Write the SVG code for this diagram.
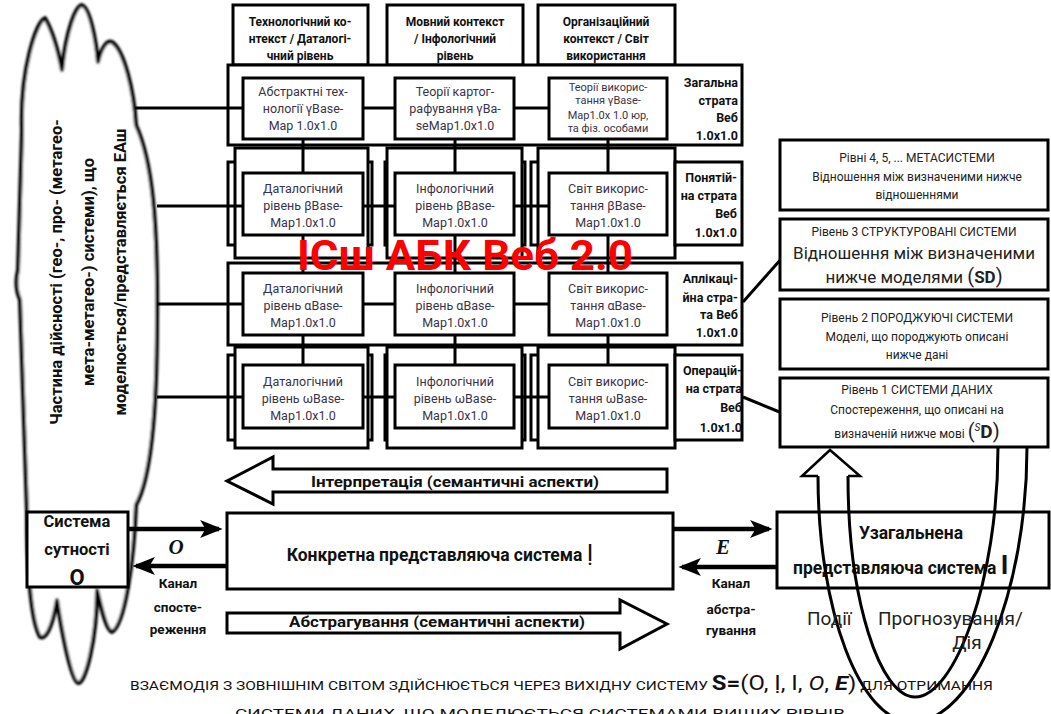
<svg xmlns="http://www.w3.org/2000/svg" width="1051" height="714" viewBox="0 0 1051 714">
  <style>
    .box { fill: #fff; stroke: #000; stroke-width: 3; }
    .ln { fill: none; stroke: #000; stroke-width: 3; }
    .thk { fill: none; stroke: #000; stroke-width: 4.5; }
    .hdr { font-family: Roboto, "Liberation Sans", sans-serif; font-weight: bold; font-size: 12px; fill: #111; text-anchor: middle; }
    .inn { font-family: Roboto, "Liberation Sans", sans-serif; font-size: 12.5px; fill: #3a3347; text-anchor: middle; }
    .inn4 { font-family: Roboto, "Liberation Sans", sans-serif; font-size: 11px; fill: #3a3347; text-anchor: middle; }
    .str { font-family: Roboto, "Liberation Sans", sans-serif; font-weight: bold; font-size: 12.5px; fill: #111; text-anchor: end; }
    .lvs { font-family: Roboto, "Liberation Sans", sans-serif; font-size: 12px; fill: #222; text-anchor: middle; }
    .lvb { font-family: Roboto, "Liberation Sans", sans-serif; font-size: 17px; fill: #222; text-anchor: middle; }
    .bld { font-family: Roboto, "Liberation Sans", sans-serif; font-weight: bold; fill: #111; text-anchor: middle; }
    .bldl { font-family: Roboto, "Liberation Sans", sans-serif; font-weight: bold; fill: #111; text-anchor: start; }
    .reg { font-family: Roboto, "Liberation Sans", sans-serif; fill: #222; }
    .ital { font-family: "Liberation Serif", serif; font-style: italic; font-weight: bold; fill: #111; text-anchor: middle; }
  </style>
  <defs>
    <marker id="ah" markerWidth="5" markerHeight="4" refX="4.2" refY="2" orient="auto" markerUnits="strokeWidth">
      <path d="M0,0 L5,2 L0,4 L1.2,2 Z" fill="#000"/>
    </marker>
    <filter id="soft" x="-10%" y="-10%" width="120%" height="120%">
      <feGaussianBlur stdDeviation="0.8"/>
    </filter>
  </defs>

  <rect width="1051" height="714" fill="#fff"/>

  <!-- cloud: the modelled part of reality -->
  <g id="reality">
    <path filter="url(#soft)" fill="#fff" stroke="#000" stroke-width="4" stroke-linejoin="round"
      d="M27 512 L20 300 Q14 286 18 270 L22 130 C20 70 36 22 45 18 C52 30 58 50 62 70 C66 30 76 5 82 5 C90 8 96 40 98 62 C102 45 108 40 112 42 C124 50 134 90 136 125 C152 160 158 220 157 320 C157 420 150 480 136 505 C134 560 125 625 112 632 C105 630 100 600 97 590 C97 640 85 685 78 683 C70 680 60 620 57 600 C52 630 45 640 40 637 C30 620 27 560 27 512 Z"/>
    <g class="bld" font-size="16.5">
      <text transform="translate(62,272) rotate(-90)">Частина  дійсності  (гео-, про- (метагео-</text>
      <text transform="translate(94,272) rotate(-90)">мета-метагео-) системи), що</text>
      <text transform="translate(126,272) rotate(-90)">моделюється/представляється  ЕАш</text>
    </g>
  </g>

  <!-- column headers -->
  <g id="ctx-tech">
    <rect class="box" x="233" y="5" width="135" height="60"/>
    <text class="hdr" x="300" y="26">Технологічний ко-</text>
    <text class="hdr" x="300" y="43">нтекст / Даталогі-</text>
    <text class="hdr" x="300" y="60">чний рівень</text>
  </g>
  <g id="ctx-lang">
    <rect class="box" x="387" y="5" width="136" height="60"/>
    <text class="hdr" x="455" y="26">Мовний контекст</text>
    <text class="hdr" x="455" y="43">/ Інфологічний</text>
    <text class="hdr" x="455" y="60">рівень</text>
  </g>
  <g id="ctx-org">
    <rect class="box" x="538" y="5" width="137" height="60"/>
    <text class="hdr" x="606" y="26">Організаційний</text>
    <text class="hdr" x="606" y="43">контекст / Світ</text>
    <text class="hdr" x="606" y="60">використання</text>
  </g>

  <!-- strata frames -->
  <g id="stratum-general">
    <rect class="box" x="228" y="65" width="514" height="80"/>
    <text class="str" x="738" y="87">Загальна</text>
    <text class="str" x="738" y="105">страта</text>
    <text class="str" x="738" y="122">Веб</text>
    <text class="str" x="738" y="140">1.0x1.0</text>
  </g>
  <g id="stratum-concept">
    <rect class="box" x="228" y="162" width="144" height="83"/>
    <rect class="box" x="385" y="162" width="140" height="83"/>
    <rect class="box" x="531" y="162" width="145" height="83"/>
    <rect class="box" x="235" y="148" width="133" height="110"/>
    <rect class="box" x="387" y="148" width="135" height="110"/>
    <rect class="box" x="538" y="148" width="137" height="110"/>
    <rect class="box" x="675" y="162" width="67" height="83"/>
    <text class="str" x="737" y="182">Понятій-</text>
    <text class="str" x="737" y="200">на страта</text>
    <text class="str" x="737" y="218">Веб</text>
    <text class="str" x="737" y="237">1.0x1.0</text>
  </g>
  <g id="stratum-applied">
    <rect class="box" x="228" y="263" width="514" height="82"/>
    <text class="str" x="738" y="283">Аплікаці-</text>
    <text class="str" x="738" y="302">йна стра-</text>
    <text class="str" x="738" y="319">та Веб</text>
    <text class="str" x="738" y="337">1.0x1.0</text>
  </g>
  <g id="stratum-operational">
    <rect class="box" x="228" y="355" width="144" height="85"/>
    <rect class="box" x="385" y="355" width="140" height="85"/>
    <rect class="box" x="531" y="355" width="145" height="85"/>
    <rect class="box" x="235" y="347" width="133" height="101"/>
    <rect class="box" x="387" y="347" width="135" height="101"/>
    <rect class="box" x="538" y="347" width="137" height="101"/>
    <rect class="box" x="675" y="355" width="67" height="85"/>
    <text class="str" x="742" y="375">Операцій-</text>
    <text class="str" x="742" y="393">на страта</text>
    <text class="str" x="742" y="412">Веб</text>
    <text class="str" x="742" y="432">1.0x1.0</text>
  </g>

  <!-- connectors -->
  <g id="connectors">
    <path class="ln" d="M135 108H243M363 108H395M514 108H549"/>
    <path class="ln" d="M157 206H243M363 206H395M514 206H549"/>
    <path class="ln" d="M157 304H243M363 304H395M514 304H549"/>
    <path class="ln" d="M157 397H243M363 397H395M514 397H549"/>
    <path class="ln" d="M303 139V173M303 235V273M303 335V365"/>
    <path class="ln" d="M455 139V173M455 235V273M455 335V365"/>
    <path class="ln" d="M608 139V173M608 235V273M608 335V365"/>
    <path class="ln" d="M743 302L782 258M743 397L782 413"/>
    <path class="thk" marker-end="url(#ah)" d="M128 529H219"/>
    <path class="thk" marker-end="url(#ah)" d="M227 566H136"/>
    <path class="thk" marker-end="url(#ah)" d="M673 529H769"/>
    <path class="thk" marker-end="url(#ah)" d="M777 567H682"/>
  </g>

  <!-- row 1 cells -->
  <g id="r1-tech">
    <rect class="box" x="243" y="78" width="120" height="61"/>
    <text class="inn" x="303" y="96">Абстрактні тех-</text>
    <text class="inn" x="303" y="113">нології γBase-</text>
    <text class="inn" x="303" y="130">Map 1.0x1.0</text>
  </g>
  <g id="r1-lang">
    <rect class="box" x="395" y="78" width="119" height="61"/>
    <text class="inn" x="455" y="96">Теорії картог-</text>
    <text class="inn" x="455" y="113">рафування γBa-</text>
    <text class="inn" x="455" y="130">seMap1.0x1.0</text>
  </g>
  <g id="r1-org">
    <rect class="box" x="549" y="78" width="118" height="61"/>
    <text class="inn4" x="608" y="91">Теорії викорис-</text>
    <text class="inn4" x="608" y="104">тання γBase-</text>
    <text class="inn4" x="608" y="119">Map1.0x 1.0 юр,</text>
    <text class="inn4" x="608" y="132">та фіз. особами</text>
  </g>

  <!-- row 2 cells -->
  <g id="r2-tech">
    <rect class="box" x="243" y="173" width="120" height="62"/>
    <text class="inn" x="303" y="193">Даталогічний</text>
    <text class="inn" x="303" y="210">рівень βBase-</text>
    <text class="inn" x="303" y="227">Map1.0x1.0</text>
  </g>
  <g id="r2-lang">
    <rect class="box" x="395" y="173" width="119" height="62"/>
    <text class="inn" x="455" y="193">Інфологічний</text>
    <text class="inn" x="455" y="210">рівень βBase-</text>
    <text class="inn" x="455" y="227">Map1.0x1.0</text>
  </g>
  <g id="r2-org">
    <rect class="box" x="549" y="173" width="118" height="62"/>
    <text class="inn" x="608" y="193">Світ викорис-</text>
    <text class="inn" x="608" y="210">тання βBase-</text>
    <text class="inn" x="608" y="227">Map1.0x1.0</text>
  </g>

  <!-- row 3 cells -->
  <g id="r3-tech">
    <rect class="box" x="243" y="273" width="120" height="62"/>
    <text class="inn" x="303" y="293">Даталогічний</text>
    <text class="inn" x="303" y="310">рівень αBase-</text>
    <text class="inn" x="303" y="327">Map1.0x1.0</text>
  </g>
  <g id="r3-lang">
    <rect class="box" x="395" y="273" width="119" height="62"/>
    <text class="inn" x="455" y="293">Інфологічний</text>
    <text class="inn" x="455" y="310">рівень αBase-</text>
    <text class="inn" x="455" y="327">Map1.0x1.0</text>
  </g>
  <g id="r3-org">
    <rect class="box" x="549" y="273" width="118" height="62"/>
    <text class="inn" x="608" y="293">Світ викорис-</text>
    <text class="inn" x="608" y="310">тання αBase-</text>
    <text class="inn" x="608" y="327">Map1.0x1.0</text>
  </g>

  <!-- row 4 cells -->
  <g id="r4-tech">
    <rect class="box" x="243" y="365" width="120" height="63"/>
    <text class="inn" x="303" y="386">Даталогічний</text>
    <text class="inn" x="303" y="403">рівень ωBase-</text>
    <text class="inn" x="303" y="420">Map1.0x1.0</text>
  </g>
  <g id="r4-lang">
    <rect class="box" x="395" y="365" width="119" height="63"/>
    <text class="inn" x="455" y="386">Інфологічний</text>
    <text class="inn" x="455" y="403">рівень ωBase-</text>
    <text class="inn" x="455" y="420">Map1.0x1.0</text>
  </g>
  <g id="r4-org">
    <rect class="box" x="549" y="365" width="118" height="63"/>
    <text class="inn" x="608" y="386">Світ викорис-</text>
    <text class="inn" x="608" y="403">тання ωBase-</text>
    <text class="inn" x="608" y="420">Map1.0x1.0</text>
  </g>

  <!-- title over the grid -->
  <g id="title">
    <text x="297" y="270" textLength="336" lengthAdjust="spacingAndGlyphs" font-family="Roboto, 'Liberation Sans', sans-serif" font-weight="bold" font-size="42" fill="#ff0000">ІСш АБК Веб 2.0</text>
  </g>

  <!-- system levels -->
  <g id="level-4">
    <rect class="box" x="780" y="140" width="268" height="70"/>
    <text class="lvs" x="917" y="162">Рівні 4, 5, ... МЕТАСИСТЕМИ</text>
    <text class="lvs" x="917" y="181">Відношення  між визначеними  нижче</text>
    <text class="lvs" x="917" y="199">відношеннями</text>
  </g>
  <g id="level-3">
    <rect class="box" x="780" y="219" width="268" height="71"/>
    <text class="lvs" x="914" y="236">Рівень 3 СТРУКТУРОВАНІ  СИСТЕМИ</text>
    <text class="lvb" x="914" y="259">Відношення між визначеними</text>
    <text class="lvb" x="914" y="283">нижче моделями <tspan font-size="20">(</tspan><tspan font-weight="bold">SD</tspan><tspan font-size="20">)</tspan></text>
  </g>
  <g id="level-2">
    <rect class="box" x="780" y="299" width="268" height="70"/>
    <text class="lvs" x="917" y="322">Рівень 2 ПОРОДЖУЮЧІ  СИСТЕМИ</text>
    <text class="lvs" x="917" y="341">Моделі, що породжують описані</text>
    <text class="lvs" x="917" y="359">нижче дані</text>
  </g>
  <g id="level-1">
    <rect class="box" x="780" y="378" width="268" height="69"/>
    <text class="lvs" x="917" y="394">Рівень 1 СИСТЕМИ  ДАНИХ</text>
    <text class="lvs" x="917" y="414">Спостереження,  що описані на</text>
    <text class="lvs" x="917" y="438">визначеній нижче мові  <tspan font-size="20">(</tspan><tspan font-size="10" dy="-7" font-style="italic">S</tspan><tspan font-size="19" font-weight="bold" dy="7">D</tspan><tspan font-size="20">)</tspan></text>
  </g>

  <!-- semantic flows -->
  <g id="interpretation">
    <path fill="#fff" stroke="#000" stroke-width="3" d="M667 469H273V457L227 481L273 504V492H667Z"/>
    <text class="bld" x="455" y="487" font-size="14" textLength="288" lengthAdjust="spacingAndGlyphs">Інтерпретація (семантичні аспекти)</text>
  </g>
  <g id="abstraction">
    <path fill="#fff" stroke="#000" stroke-width="3" d="M227 613H620V600L667 624L620 649V633H227Z"/>
    <text class="bld" x="437" y="627" font-size="14" textLength="296" lengthAdjust="spacingAndGlyphs">Абстрагування (семантичні аспекти)</text>
  </g>

  <!-- object system -->
  <g id="object-system">
    <rect class="box" x="27" y="512" width="101" height="75"/>
    <text class="bld" x="77" y="527" font-size="16.5">Система</text>
    <text class="bld" x="77" y="555" font-size="16.5">сутності</text>
    <text class="bld" x="77" y="585" font-size="22">О</text>
  </g>
  <g id="observation-channel">
    <text class="ital" x="176" y="554" font-size="21">O</text>
    <text class="bld" x="178" y="588" font-size="13.5">Канал</text>
    <text class="bld" x="178" y="612" font-size="13.5">спосте-</text>
    <text class="bld" x="178" y="634" font-size="13.5">реження</text>
  </g>

  <!-- concrete representing system -->
  <g id="concrete-system">
    <rect class="box" x="227" y="513" width="446" height="76"/>
    <text class="bld" x="440" y="561" font-size="17.5">Конкретна представляюча система <tspan font-size="24" font-weight="normal">Ị</tspan></text>
  </g>
  <g id="abstraction-channel">
    <text class="ital" x="723" y="554" font-size="21">E</text>
    <text class="bld" x="731" y="588" font-size="13.5">Канал</text>
    <text class="bld" x="731" y="614" font-size="13.5">абстра-</text>
    <text class="bld" x="731" y="635" font-size="13.5">гування</text>
  </g>

  <!-- generalised representing system -->
  <g id="general-system">
    <rect class="box" x="777" y="512" width="272" height="76"/>
    <text class="bld" x="911" y="539" font-size="17.5">Узагальнена</text>
    <text class="bldl" x="793" y="574" font-size="17.5">представляюча система <tspan font-size="26">І</tspan></text>
  </g>

  <!-- events / prediction loop -->
  <g id="loop">
    <path class="ln" stroke-width="2.5" d="M818 476C818 610 860 722 912 722C975 722 1027 590 1027 447"/>
    <path class="ln" stroke-width="2.5" d="M848 476C848 600 880 697 915 697C955 697 998 580 998 447"/>
    <path fill="#fff" stroke="#000" stroke-width="2.5" stroke-linejoin="miter" d="M818 476H802L830 450L860 476H848"/>
    <text class="reg" x="807" y="625" font-size="19">Події</text>
    <text class="reg" x="878" y="625" font-size="19">Прогнозування/</text>
    <text class="reg" x="967" y="649" font-size="19" text-anchor="middle">Дія</text>
  </g>

  <!-- caption -->
  <g id="caption" font-family="Roboto, 'Liberation Sans', sans-serif" fill="#111">
    <text x="130" y="690" font-size="13" textLength="863" lengthAdjust="spacingAndGlyphs">ВЗАЄМОДІЯ З ЗОВНІШНІМ СВІТОМ ЗДІЙСНЮЄТЬСЯ ЧЕРЕЗ ВИХІДНУ СИСТЕМУ <tspan font-size="20" font-weight="bold">S=</tspan><tspan font-size="20">(O, Ị, I, </tspan><tspan font-size="20" font-style="italic">O</tspan><tspan font-size="20">, </tspan><tspan font-size="20" font-style="italic" font-weight="bold">E</tspan><tspan font-size="20">)</tspan> ДЛЯ ОТРИМАННЯ</text>
    <text x="235" y="718" font-size="13" textLength="610" lengthAdjust="spacingAndGlyphs">СИСТЕМИ ДАНИХ, ЩО МОДЕЛЮЄТЬСЯ СИСТЕМАМИ ВИЩИХ РІВНІВ</text>
  </g>
</svg>
